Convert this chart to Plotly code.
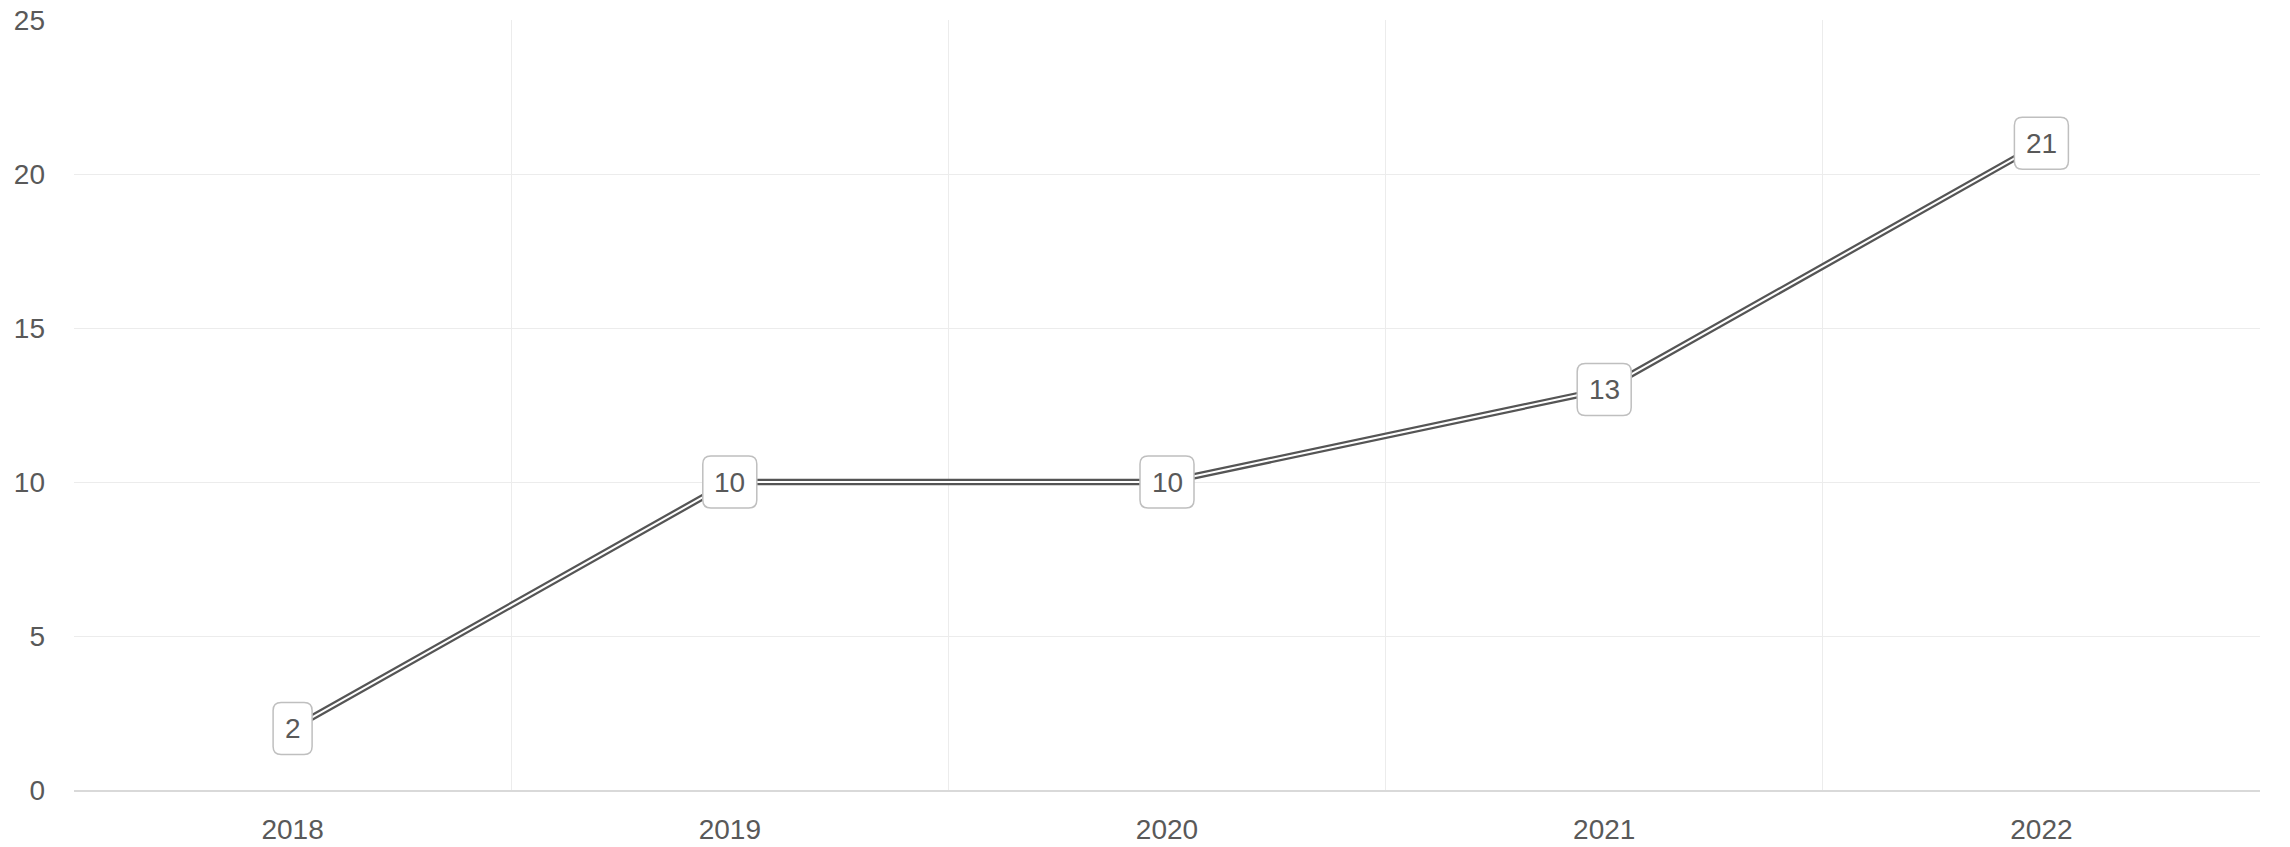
import plotly.graph_objects as go

years = ["2018", "2019", "2020", "2021", "2022"]
values = [2, 10, 10, 13, 21]
y_ticks = [0, 5, 10, 15, 20, 25]

TEXT = "#595959"
LINE = "#555555"
GRID = "#ececec"
FONT = "Liberation Sans"
FS = 28

fig = go.Figure()

# double line: thick dark stroke with a thin white stroke on top
fig.add_trace(go.Scatter(x=years, y=values, mode="lines",
                         line=dict(color=LINE, width=6.5), hoverinfo="skip",
                         showlegend=False))
fig.add_trace(go.Scatter(x=years, y=values, mode="lines",
                         line=dict(color="white", width=2), hoverinfo="skip",
                         showlegend=False))


def rounded_rect(w, h, r):
    x0, x1, y0, y1 = -w / 2, w / 2, -h / 2, h / 2
    return (f"M{x0 + r},{y0} L{x1 - r},{y0} Q{x1},{y0} {x1},{y0 + r} "
            f"L{x1},{y1 - r} Q{x1},{y1} {x1 - r},{y1} "
            f"L{x0 + r},{y1} Q{x0},{y1} {x0},{y1 - r} "
            f"L{x0},{y0 + r} Q{x0},{y0} {x0 + r},{y0} Z")


# value callouts: rounded boxes anchored at each point, value text on top
for i, v in enumerate(values):
    label = str(v)
    w = 15 * len(label) + 24
    fig.add_shape(type="path", xref="x", yref="y",
                  xsizemode="pixel", ysizemode="pixel",
                  xanchor=i, yanchor=v,
                  path=rounded_rect(w, 52, 8),
                  fillcolor="white", line=dict(color="#bfbfbf", width=1.5),
                  layer="above")
    fig.add_annotation(x=i, y=v, text=label, showarrow=False,
                       font=dict(family=FONT, size=FS, color=TEXT),
                       xanchor="center", yanchor="middle")

fig.update_layout(
    width=2290, height=847,
    margin=dict(l=74, r=30, t=20, b=57, autoexpand=False),
    paper_bgcolor="white", plot_bgcolor="white",
    font=dict(family=FONT, size=FS, color=TEXT),
)
fig.update_xaxes(type="category", categoryorder="array", categoryarray=years,
                 range=[-0.5, len(years) - 0.5], tickson="boundaries",
                 showgrid=True, gridcolor=GRID, gridwidth=1,
                 showline=True, linecolor="#d9d9d9", linewidth=1.5,
                 ticks="", ticklabelstandoff=14,
                 tickfont=dict(family=FONT, size=FS, color=TEXT),
                 zeroline=False, mirror=False, automargin=False)
fig.update_yaxes(range=[0, 25], tickvals=y_ticks,
                 showgrid=True, gridcolor=GRID, gridwidth=1,
                 zeroline=False, showline=False, ticks="",
                 ticklabelstandoff=28, automargin=False,
                 tickfont=dict(family=FONT, size=FS, color=TEXT))

fig.write_html("out.html")
